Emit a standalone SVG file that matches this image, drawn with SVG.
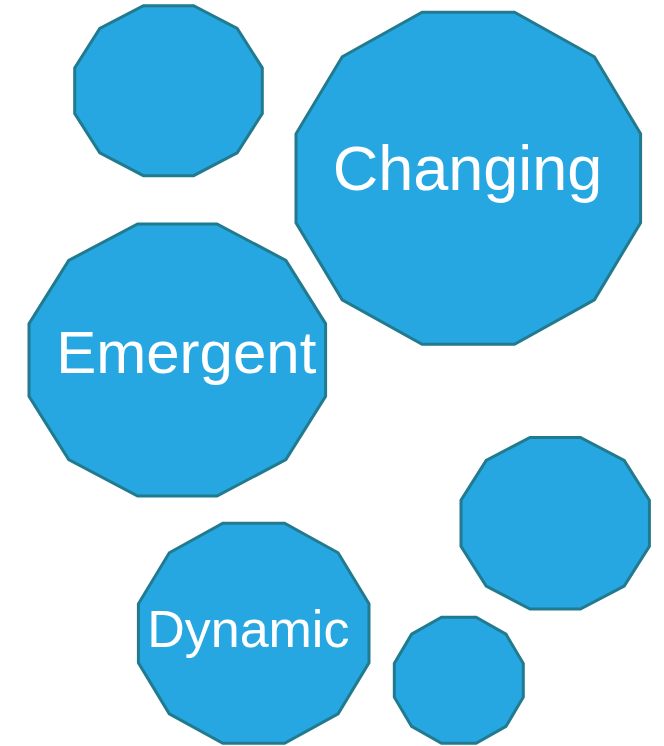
<svg xmlns="http://www.w3.org/2000/svg" width="664" height="746" viewBox="0 0 664 746">
<style>
.shape{fill:#26a7e2;stroke:#217a8e;stroke-width:3;stroke-linejoin:miter}
.lbl{fill:#ffffff;font-family:"Liberation Sans",Arial,sans-serif;text-anchor:middle}
</style>
<rect width="664" height="746" fill="#ffffff"/>
<g id="node-small-top">
<polygon class="shape" points="262.3,67.9 237.2,28.5 193.6,5.7 143.4,5.7 99.8,28.5 74.7,67.9 74.7,113.5 99.8,152.9 143.4,175.7 193.6,175.7 237.2,152.9 262.3,113.5"/>
</g>
<g id="node-changing">
<polygon class="shape" points="640.6,133.8 594.4,56.8 514.5,12.3 422.1,12.3 342.2,56.8 296,133.8 296,222.8 342.2,299.8 422.1,344.3 514.5,344.3 594.4,299.8 640.6,222.8"/>
<text class="lbl" x="467.5" y="190.3" font-size="63">Changing</text>
</g>
<g id="node-emergent">
<polygon class="shape" points="325.6,323.6 285.9,260.4 217,224 137.6,224 68.7,260.4 29,323.6 29,396.4 68.7,459.6 137.6,496 217,496 285.9,459.6 325.6,396.4"/>
<text class="lbl" x="186.3" y="372.7" font-size="60">Emergent</text>
</g>
<g id="node-dynamic">
<polygon class="shape" points="369,603.8 338.1,552.8 284.6,523.3 222.8,523.3 169.3,552.8 138.4,603.8 138.4,662.8 169.3,713.8 222.8,743.3 284.6,743.3 338.1,713.8 369,662.8"/>
<text class="lbl" x="248.3" y="647.3" font-size="52">Dynamic</text>
</g>
<g id="node-right-mid">
<polygon class="shape" points="649.4,500.2 624.2,460.4 580.4,437.4 530,437.4 486.2,460.4 461,500.2 461,546.2 486.2,586 530,609 580.4,609 624.2,586 649.4,546.2"/>
</g>
<g id="node-right-bottom">
<polygon class="shape" points="523.3,663.4 506,634.2 476.1,617.3 441.5,617.3 411.6,634.2 394.3,663.4 394.3,697.2 411.6,726.4 441.5,743.3 476.1,743.3 506,726.4 523.3,697.2"/>
</g>
<g id="connectors"/>
</svg>
